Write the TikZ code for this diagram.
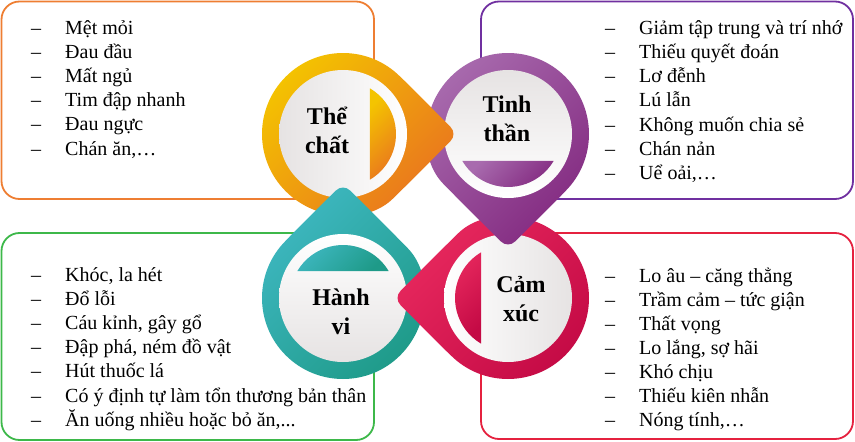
\documentclass[tikz,border=0pt]{standalone}
\usepackage{fontspec}
\setmainfont{Liberation Serif}
\usetikzlibrary{calc}

\definecolor{boxorange}{HTML}{EE7E32}
\definecolor{boxpurple}{HTML}{7030A0}
\definecolor{boxgreen}{HTML}{3DB84A}
\definecolor{boxred}{HTML}{E5213F}
\definecolor{orangeA}{HTML}{F4C400}
\definecolor{orangeB}{HTML}{E9731F}
\definecolor{purpleA}{HTML}{A86BAE}
\definecolor{purpleB}{HTML}{82287F}
\definecolor{tealA}{HTML}{3FB8C2}
\definecolor{tealB}{HTML}{1E9A88}
\definecolor{redA}{HTML}{E8295E}
\definecolor{redB}{HTML}{C40A45}
\definecolor{discgray}{HTML}{E6E3E3}

\begin{document}
\begin{tikzpicture}[x=1pt, y=-1pt,
    infobox/.style={rounded corners=18pt, line width=1.8pt},
    pinshape/.style 2 args={insert path={($(#1)+(#2+45:81)$)
      arc[start angle=#2+45, delta angle=270, radius=81]
      [rounded corners=10pt] -- ($(#1)+(#2:114.6)$) -- cycle}},
    tipzone/.style 2 args={insert path={($(#1)+(#2-45:79)$) -- ($(#1)+(#2:170)$)
      -- ($(#1)+(#2+45:79)$) arc[start angle=#2+45, delta angle=-90, radius=79] -- cycle}},
    segment/.style 2 args={insert path={($(#1)+(#2-59.4:53)$)
      arc[start angle=#2-59.4, delta angle=118.8, radius=53] -- cycle}},
    physfill/.style={top color=orangeA, bottom color=orangeB, shading angle=45},
    mentfill/.style={top color=purpleA, bottom color=purpleB, shading angle=45},
    behafill/.style={top color=tealA, bottom color=tealB, shading angle=45},
    emotfill/.style={top color=redA, bottom color=redB, shading angle=45},
    disc/.style={top color=discgray, bottom color=white, shading angle=#1},
    pinlabel/.style={font=\fontsize{24}{29}\selectfont\bfseries, align=center, inner sep=0pt},
    listitem/.style={font=\fontsize{20}{24}\selectfont, anchor=base west, inner sep=0pt}
]
\useasboundingbox (0,0) rectangle (855,442);

% boxes
\draw[infobox, boxorange] (1.5,1.5) rectangle (374,199);
\draw[infobox, boxpurple] (481,1.5) rectangle (853,199);
\draw[infobox, boxgreen] (1.5,233) rectangle (374,440);
\draw[infobox, boxred] (481,233) rectangle (853,439);

% pin centres
\coordinate (physc) at (343,134);
\coordinate (mentc) at (508,134);
\coordinate (behac) at (343,298);
\coordinate (emotc) at (508,298);

% pin bodies
\shade[physfill, pinshape={physc}{0}];
\shade[mentfill, pinshape={mentc}{90}];
\shade[emotfill, pinshape={emotc}{180}];
\shade[behafill, pinshape={behac}{270}];

% white discs and segments
\shade[disc=90] (physc) circle[radius=64];
\shade[disc=0] (mentc) circle[radius=64];
\shade[disc=270] (emotc) circle[radius=64];
\shade[disc=180] (behac) circle[radius=64];
\shade[physfill, segment={physc}{0}];
\shade[mentfill, segment={mentc}{90}];
\shade[emotfill, segment={emotc}{180}];
\shade[behafill, segment={behac}{270}];

% tips over the next circle
\begin{scope}
  \clip[tipzone={physc}{0}];
  \shade[physfill, pinshape={physc}{0}];
\end{scope}
\begin{scope}
  \clip[tipzone={mentc}{90}];
  \shade[mentfill, pinshape={mentc}{90}];
\end{scope}
\begin{scope}
  \clip[tipzone={emotc}{180}];
  \shade[emotfill, pinshape={emotc}{180}];
\end{scope}
\begin{scope}
  \clip[tipzone={behac}{270}];
  \shade[behafill, pinshape={behac}{270}];
\end{scope}

% labels
\node[pinlabel] (phys) at (327,130) {Thể\\chất};
\node[pinlabel] (ment) at (507,119) {Tinh\\thần};
\node[pinlabel] (beha) at (341,312) {Hành\\vi};
\node[pinlabel] (emot) at (521,299) {Cảm\\xúc};

% lists
\foreach \t [count=\i] in {Mệt mỏi, Đau đầu, Mất ngủ, Tim đập nhanh, Đau ngực, {Chán ăn,…}}
  \node[listitem] (physitem\i) at (31,{34+24.2*(\i-1)}) {\makebox[34pt][l]{–}\t};
\foreach \t [count=\i] in {Giảm tập trung và trí nhớ, Thiếu quyết đoán, Lơ đễnh, Lú lẫn,
    Không muốn chia sẻ, Chán nản, {Uể oải,…}}
  \node[listitem] (mentitem\i) at (605,{34+24.3*(\i-1)}) {\makebox[34pt][l]{–}\t};
\foreach \t [count=\i] in {{Khóc, la hét}, Đổ lỗi, {Cáu kỉnh, gây gổ}, {Đập phá, ném đồ vật},
    Hút thuốc lá, Có ý định tự làm tổn thương bản thân, {Ăn uống nhiều hoặc bỏ ăn,.{}.{}.}}
  \node[listitem] (behaitem\i) at (31,{281+24.2*(\i-1)}) {\makebox[34pt][l]{–}\t};
\foreach \t [count=\i] in {Lo âu – căng thẳng, Trầm cảm – tức giận, Thất vọng, {Lo lắng, sợ hãi},
    Khó chịu, Thiếu kiên nhẫn, {Nóng tính,…}}
  \node[listitem] (emotitem\i) at (605,{282+24.1*(\i-1)}) {\makebox[34pt][l]{–}\t};

\end{tikzpicture}
\end{document}
